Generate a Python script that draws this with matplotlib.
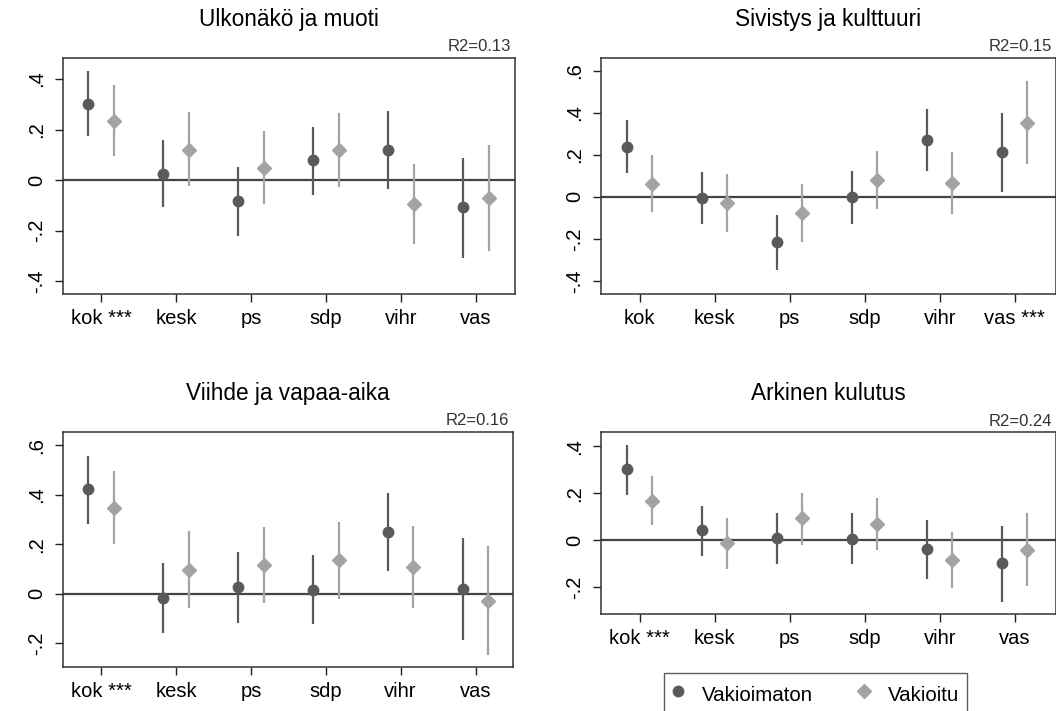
import matplotlib
matplotlib.use("Agg")
import matplotlib.pyplot as plt
from matplotlib.lines import Line2D

plt.rcParams['font.family'] = ['Liberation Sans', 'DejaVu Sans']

parties = ["kok", "kesk", "ps", "sdp", "vihr", "vas"]

# Panel 1: Ulkonäkö ja muoti
p1_title = "Ulkonäkö ja muoti"
p1_r2 = "R2=0.13"
p1_labels = ["kok ***", "kesk", "ps", "sdp", "vihr", "vas"]
p1_unadj = [0.302, 0.026, -0.083, 0.078, 0.119, -0.108]
p1_unadj_lo = [0.173, -0.108, -0.219, -0.059, -0.036, -0.309]
p1_unadj_hi = [0.433, 0.158, 0.051, 0.209, 0.273, 0.087]
p1_adj = [0.235, 0.121, 0.050, 0.119, -0.094, -0.071]
p1_adj_lo = [0.094, -0.022, -0.095, -0.028, -0.252, -0.280]
p1_adj_hi = [0.376, 0.268, 0.195, 0.264, 0.065, 0.139]
p1_yticks = [-0.4, -0.2, 0, 0.2, 0.4]

# Panel 2: Sivistys ja kulttuuri
p2_title = "Sivistys ja kulttuuri"
p2_r2 = "R2=0.15"
p2_labels = ["kok", "kesk", "ps", "sdp", "vihr", "vas ***"]
p2_unadj = [0.238, -0.006, -0.216, -0.003, 0.270, 0.213]
p2_unadj_lo = [0.114, -0.130, -0.348, -0.130, 0.124, 0.022]
p2_unadj_hi = [0.363, 0.117, -0.086, 0.122, 0.417, 0.397]
p2_adj = [0.059, -0.027, -0.079, 0.079, 0.065, 0.351]
p2_adj_lo = [-0.073, -0.165, -0.217, -0.059, -0.083, 0.154]
p2_adj_hi = [0.197, 0.110, 0.060, 0.219, 0.214, 0.549]
p2_yticks = [-0.4, -0.2, 0, 0.2, 0.4, 0.6]

# Panel 3: Viihde ja vapaa-aika
p3_title = "Viihde ja vapaa-aika"
p3_r2 = "R2=0.16"
p3_labels = ["kok ***", "kesk", "ps", "sdp", "vihr", "vas"]
p3_unadj = [0.423, -0.018, 0.026, 0.016, 0.251, 0.020]
p3_unadj_lo = [0.283, -0.159, -0.116, -0.123, 0.092, -0.186]
p3_unadj_hi = [0.555, 0.123, 0.167, 0.155, 0.408, 0.224]
p3_adj = [0.346, 0.097, 0.117, 0.136, 0.109, -0.028]
p3_adj_lo = [0.202, -0.057, -0.036, -0.019, -0.057, -0.248]
p3_adj_hi = [0.496, 0.253, 0.269, 0.290, 0.273, 0.194]
p3_yticks = [-0.2, 0, 0.2, 0.4, 0.6]

# Panel 4: Arkinen kulutus
p4_title = "Arkinen kulutus"
p4_r2 = "R2=0.24"
p4_labels = ["kok ***", "kesk", "ps", "sdp", "vihr", "vas"]
p4_unadj = [0.302, 0.041, 0.009, 0.004, -0.037, -0.100]
p4_unadj_lo = [0.191, -0.068, -0.102, -0.102, -0.165, -0.263]
p4_unadj_hi = [0.404, 0.147, 0.117, 0.117, 0.085, 0.061]
p4_adj = [0.168, -0.013, 0.093, 0.068, -0.085, -0.041]
p4_adj_lo = [0.065, -0.125, -0.021, -0.043, -0.204, -0.198]
p4_adj_hi = [0.273, 0.095, 0.199, 0.178, 0.034, 0.117]
p4_yticks = [-0.2, 0, 0.2, 0.4]

legend_labels = ["Vakioimaton", "Vakioitu"]

DARK = "#5a5a5a"
LIGHT = "#a3a3a3"
OFF = 0.17

fig = plt.figure(figsize=(10.56, 7.11), dpi=100)

def fmt(v):
    if abs(v) < 1e-9:
        return "0"
    s = f"{v:.1f}"
    return s.replace("0.", ".")

def panel(rect, title, r2, labels, u, ulo, uhi, a, alo, ahi, yticks, ylim, xlim):
    ax = fig.add_axes(rect)
    x = list(range(len(parties)))
    xu = [i - OFF for i in x]
    xa = [i + OFF for i in x]
    ax.axhline(0, color="#444444", lw=1.6, zorder=1)
    ax.vlines(xu, ulo, uhi, color=DARK, lw=1.6, zorder=2)
    ax.vlines(xa, alo, ahi, color=LIGHT, lw=1.6, zorder=2)
    ax.plot(xu, u, 'o', color=DARK, ms=7.5, zorder=3)
    ax.plot(xa, a, 'D', color=LIGHT, ms=7.5, zorder=3)
    ax.set_xlim(*xlim)
    ax.set_ylim(*ylim)
    ax.set_xticks(x)
    ax.set_xticklabels(labels, fontsize=14.5)
    ax.set_yticks(yticks)
    ax.set_yticklabels([fmt(v) for v in yticks], rotation=90, va='center', fontsize=14.5)
    ax.tick_params(axis='both', direction='out', length=6, width=1.0, color="#222222")
    ax.tick_params(axis='x', pad=5)
    ax.tick_params(axis='y', pad=6)
    for s in ax.spines.values():
        s.set_color("#333333")
        s.set_linewidth(1.1)
    ax.set_title(title, fontsize=16.3, pad=23)
    ax.text(0.992, 1.015, r2, transform=ax.transAxes, ha='right', va='bottom',
            fontsize=12, color="#333333")
    return ax

panel([63/1056, 1-294/711, 452/1056, 236/711], p1_title, p1_r2, p1_labels,
      p1_unadj, p1_unadj_lo, p1_unadj_hi, p1_adj, p1_adj_lo, p1_adj_hi,
      p1_yticks, (-0.45, 0.483), (-0.51, 5.52))
panel([601/1056, 1-294/711, 455/1056, 236/711], p2_title, p2_r2, p2_labels,
      p2_unadj, p2_unadj_lo, p2_unadj_hi, p2_adj, p2_adj_lo, p2_adj_hi,
      p2_yticks, (-0.462, 0.66), (-0.516, 5.55))
panel([63/1056, 1-667/711, 450/1056, 235/711], p3_title, p3_r2, p3_labels,
      p3_unadj, p3_unadj_lo, p3_unadj_hi, p3_adj, p3_adj_lo, p3_adj_hi,
      p3_yticks, (-0.295, 0.653), (-0.51, 5.50))
panel([601/1056, 1-614/711, 455/1056, 182/711], p4_title, p4_r2, p4_labels,
      p4_unadj, p4_unadj_lo, p4_unadj_hi, p4_adj, p4_adj_lo, p4_adj_hi,
      p4_yticks, (-0.316, 0.461), (-0.516, 5.55))

handles = [Line2D([], [], marker='o', color=DARK, ls='none', ms=7.5),
           Line2D([], [], marker='D', color=LIGHT, ls='none', ms=7.5)]
leg = fig.legend(handles, legend_labels, loc='upper left',
                 bbox_to_anchor=(664/1056, 1-673/711), ncol=2, fontsize=14.8,
                 frameon=True, fancybox=False, edgecolor="#333333",
                 handletextpad=0.86, columnspacing=2.17, borderpad=0.4,
                 handlelength=0.6, handleheight=1.6, borderaxespad=0)
leg.get_frame().set_linewidth(1.0)

fig.savefig("out.png", dpi=100)
